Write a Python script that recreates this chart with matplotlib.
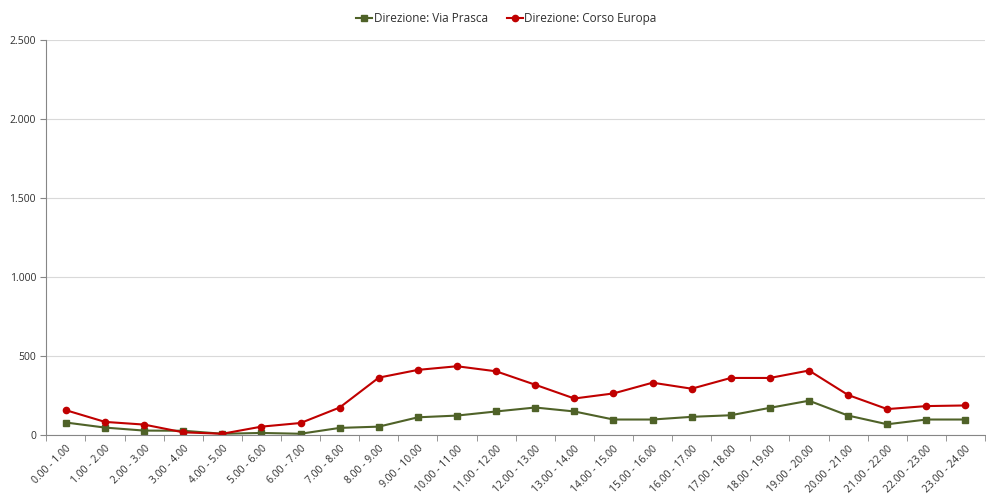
import matplotlib.pyplot as plt
import matplotlib.ticker as mticker

plt.rcParams['font.family'] = ['Open Sans', 'DejaVu Sans']

fasce = ['0.00 - 1.00', '1.00 - 2.00', '2.00 - 3.00', '3.00 - 4.00', '4.00 - 5.00',
         '5.00 - 6.00', '6.00 - 7.00', '7.00 - 8.00', '8.00 - 9.00', '9.00 - 10.00',
         '10.00 - 11.00', '11.00 - 12.00', '12.00 - 13.00', '13.00 - 14.00',
         '14.00 - 15.00', '15.00 - 16.00', '16.00 - 17.00', '17.00 - 18.00',
         '18.00 - 19.00', '19.00 - 20.00', '20.00 - 21.00', '21.00 - 22.00',
         '22.00 - 23.00', '23.00 - 24.00']
via_prasca = [79, 47, 28, 27, 8, 13, 8, 45, 53, 112, 123, 149, 174, 149,
              98, 98, 115, 125, 172, 217, 123, 68, 98, 98]
corso_europa = [157, 83, 66, 17, 8, 53, 76, 174, 363, 412, 435, 403, 318, 231,
                263, 331, 293, 361, 361, 408, 253, 164, 183, 187]

fig = plt.figure(figsize=(9.86, 4.94), dpi=100)
ax = fig.add_axes([0.047, 0.1194, 0.952, 0.8000])

x = list(range(len(fasce)))
ax.plot(x, via_prasca, color='#4F6228', marker='s', markersize=4.5, linewidth=1.5,
        label='Direzione: Via Prasca')
ax.plot(x, corso_europa, color='#C00000', marker='o', markersize=4.5, linewidth=1.5,
        label='Direzione: Corso Europa')

ax.set_xlim(-0.5, len(fasce) - 0.5)
ax.set_ylim(0, 2500)
ax.set_yticks([0, 500, 1000, 1500, 2000, 2500])
ax.yaxis.set_major_formatter(mticker.FuncFormatter(lambda v, p: f'{int(v):,}'.replace(',', '.')))
ax.grid(axis='y', color='#D9D9D9', linewidth=0.8)
ax.set_axisbelow(True)

ax.set_xticks(x)
ax.set_xticklabels(fasce, rotation=45, ha='right', rotation_mode='anchor', fontsize=7.5, color='#303030')
ax.set_xticks([i - 0.5 for i in range(len(fasce) + 1)], minor=True)
ax.tick_params(axis='x', which='major', length=0, pad=6)
ax.tick_params(axis='x', which='minor', length=4, color='#868686')
ax.tick_params(axis='y', length=4, color='#868686', labelsize=7.5, labelcolor='#303030')

for s in ['top', 'right']:
    ax.spines[s].set_visible(False)
ax.spines['left'].set_color('#868686')
ax.spines['bottom'].set_color('#868686')

ax.legend(loc='lower center', bbox_to_anchor=(0.49, 1.01), ncol=2, frameon=False,
          fontsize=8.5, handlelength=1.4, handletextpad=0.1, columnspacing=1.6,
          labelcolor='#303030')

fig.savefig('out.png', dpi=100)
